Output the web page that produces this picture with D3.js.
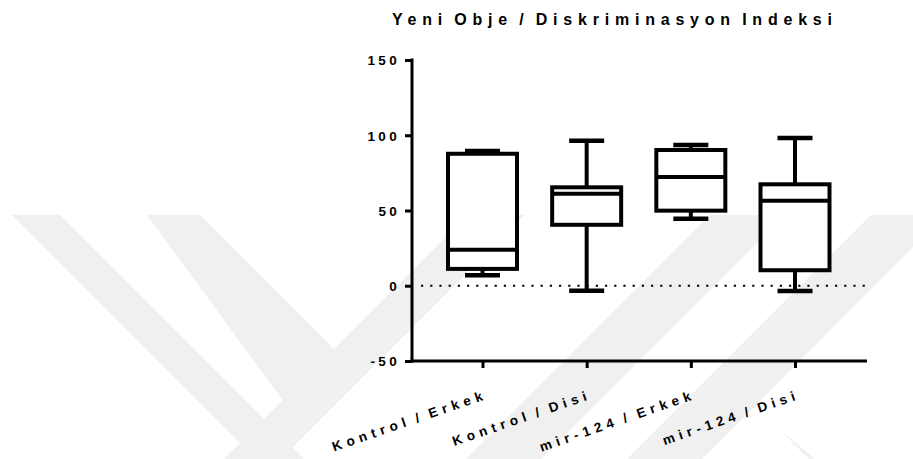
<!DOCTYPE html>
<html>
<head>
<meta charset="utf-8">
<script src="https://cdn.jsdelivr.net/npm/d3@7"></script>
<style>
  html, body { margin: 0; padding: 0; background: #ffffff; }
  svg { display: block; }
  text { font-family: "Liberation Sans", Arial, sans-serif; font-weight: bold; fill: #000; }
</style>
</head>
<body>
<svg id="chart" width="913" height="459"></svg>
<script>
// ---- data ----
const title = "Yeni Obje / Diskriminasyon Indeksi";
const categories = ["Kontrol / Erkek", "Kontrol / Disi", "mir-124 / Erkek", "mir-124 / Disi"];
const minValues    = [7.0, -3.3, 44.5, -3.5];
const q1Values     = [11.2, 40.5, 49.9, 10.3];
const medianValues = [23.9, 61.2, 72.3, 56.5];
const q3Values     = [87.7, 65.4, 90.2, 67.4];
const maxValues    = [89.5, 96.4, 93.6, 98.2];
const yTicks = [-50, 0, 50, 100, 150];
const referenceLine = 0;

// ---- layout ----
const svg = d3.select("#chart");
const axisX = 412, plotRight = 867, plotTop = 60, plotBottom = 361;

const y = d3.scaleLinear().domain([-50, 150]).range([plotBottom, plotTop]);
const x = d3.scalePoint().domain(categories).range([482.5, 795]);

// ---- watermark (light background logo) ----
const wm = svg.append("g").attr("fill", "#f0f0f0");
const bands = [
  [[12,215],[60,215],[304,459],[256,459]],
  [[147,215],[200,215],[342,357],[290,410]],
  [[468,215],[525,215],[281,459],[224,459]],
  [[710,215],[785,215],[541,459],[466,459]],
  [[871,215],[913,215],[913,247],[702,459],[627,459]],
  [[743,393],[913,563],[913,459],[815,459],[778,428]]
];
bands.forEach(p => wm.append("polygon").attr("points", p.map(d => d.join(",")).join(" ")));

// ---- title ----
svg.append("text")
  .attr("x", 392).attr("y", 25)
  .attr("font-size", 16)
  .attr("textLength", 440).attr("lengthAdjust", "spacing")
  .style("word-spacing", "-4px")
  .text(title);

// ---- y axis ----
const yAxis = d3.axisLeft(y).tickValues(yTicks).tickSize(7).tickSizeOuter(0).tickPadding(6)
  .tickFormat(d => String(d));
const gy = svg.append("g").attr("transform", `translate(${axisX},0)`).call(yAxis);
gy.select(".domain").attr("stroke", "#000").attr("stroke-width", 3).attr("d", `M0,${plotTop - 1.5}V${plotBottom + 1.5}`);
gy.selectAll(".tick line").attr("stroke", "#000").attr("stroke-width", 3);
gy.selectAll(".tick text")
  .attr("font-size", 13.5).attr("font-weight", "bold")
  .attr("font-family", "Liberation Sans, Arial, sans-serif")
  .style("letter-spacing", "3.3px")
  .attr("x", -12).attr("dy", "0.36em");

// ---- x axis ----
const xAxis = d3.axisBottom(x).tickSize(7).tickSizeOuter(0).tickFormat("");
const gx = svg.append("g").attr("transform", `translate(0,${plotBottom})`).call(xAxis);
gx.select(".domain").attr("stroke", "#000").attr("stroke-width", 3).attr("d", `M${axisX - 1.5},0H${plotRight}`);
gx.selectAll(".tick line").attr("stroke", "#000").attr("stroke-width", 3);

const labelLens = [158, 141, 159, 139];
svg.append("g").selectAll("text").data(categories).join("text")
  .attr("transform", d => `translate(${x(d) + 1},${plotBottom + 39}) rotate(-19)`)
  .attr("text-anchor", "end")
  .attr("font-size", 13.5)
  .attr("textLength", (d, i) => labelLens[i]).attr("lengthAdjust", "spacing")
  .style("word-spacing", "-3px")
  .text(d => d);

// ---- reference dotted line ----
svg.append("line")
  .attr("x1", 421).attr("x2", plotRight)
  .attr("y1", y(referenceLine)).attr("y2", y(referenceLine))
  .attr("stroke", "#000").attr("stroke-width", 2.2)
  .attr("stroke-dasharray", "2.2,7");

// ---- boxes ----
const boxW = 69, capW = 35, sw = 4;
const boxes = categories.map((c, i) => ({c, min: minValues[i], q1: q1Values[i], med: medianValues[i], q3: q3Values[i], max: maxValues[i]}));
const gb = svg.append("g").attr("stroke", "#000").attr("stroke-width", sw).attr("fill", "none");
boxes.forEach(b => {
  const cx = x(b.c);
  gb.append("line").attr("x1", cx).attr("x2", cx).attr("y1", y(b.max)).attr("y2", y(b.q3));
  gb.append("line").attr("x1", cx).attr("x2", cx).attr("y1", y(b.q1)).attr("y2", y(b.min));
  gb.append("line").attr("x1", cx - capW/2).attr("x2", cx + capW/2).attr("y1", y(b.max)).attr("y2", y(b.max)).attr("stroke-width", 4.5);
  gb.append("line").attr("x1", cx - capW/2).attr("x2", cx + capW/2).attr("y1", y(b.min)).attr("y2", y(b.min)).attr("stroke-width", 4.5);
  gb.append("rect").attr("x", cx - boxW/2).attr("width", boxW)
    .attr("y", y(b.q3)).attr("height", y(b.q1) - y(b.q3)).attr("fill", "#fff");
  gb.append("line").attr("x1", cx - boxW/2).attr("x2", cx + boxW/2).attr("y1", y(b.med)).attr("y2", y(b.med));
});
</script>
</body>
</html>
